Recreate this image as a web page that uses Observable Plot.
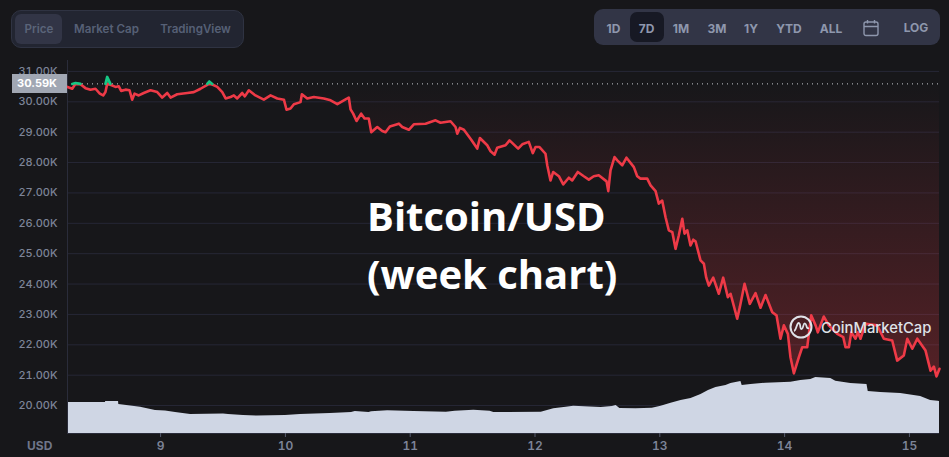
<!DOCTYPE html>
<html><head><meta charset="utf-8">
<script src="https://cdn.jsdelivr.net/npm/d3@7"></script>
<script src="https://cdn.jsdelivr.net/npm/@observablehq/plot@0.6"></script>
<style>
html,body{margin:0;padding:0;background:#17171a;width:949px;height:457px;overflow:hidden}
body{position:relative;font-family:Inter,sans-serif}
#chart{position:absolute;left:0;top:0}
.abs{position:absolute;white-space:nowrap}
.grp{position:absolute;box-sizing:border-box}
.btn{position:absolute;transform:translate(-50%,-50%);font-size:12px;font-weight:600;white-space:nowrap}
</style></head><body>
<div id="chart"></div>
<script>
const basePrice = 30.59;
const days = [8.254,8.292,8.318,8.358,8.398,8.438,8.478,8.513,8.540,8.558,8.572,8.598,8.638,8.665,8.684,8.719,8.751,8.772,8.791,8.825,8.865,8.919,8.973,9.013,9.053,9.080,9.133,9.214,9.266,9.320,9.374,9.390,9.414,9.454,9.494,9.521,9.561,9.587,9.614,9.654,9.675,9.707,9.760,9.827,9.881,9.935,9.988,10.009,10.041,10.068,10.121,10.132,10.175,10.228,10.308,10.362,10.416,10.496,10.508,10.522,10.543,10.570,10.607,10.634,10.668,10.688,10.736,10.776,10.802,10.837,10.909,10.936,10.989,11.029,11.123,11.203,11.243,11.323,11.363,11.377,11.398,11.430,11.489,11.537,11.558,11.617,11.644,11.676,11.697,11.764,11.796,11.865,11.898,11.950,11.982,12.004,12.036,12.084,12.098,12.124,12.146,12.191,12.226,12.271,12.298,12.343,12.391,12.431,12.471,12.511,12.573,12.587,12.605,12.637,12.659,12.699,12.733,12.792,12.819,12.845,12.899,12.926,12.966,12.992,13.019,13.046,13.072,13.100,13.126,13.152,13.180,13.198,13.220,13.246,13.268,13.286,13.326,13.353,13.372,13.393,13.428,13.473,13.508,13.545,13.567,13.620,13.641,13.679,13.721,13.767,13.807,13.847,13.901,13.935,13.967,13.994,14.026,14.047,14.074,14.114,14.141,14.181,14.213,14.248,14.266,14.314,14.354,14.422,14.470,14.488,14.515,14.534,14.568,14.587,14.608,14.648,14.742,14.795,14.862,14.902,14.955,14.983,15.023,15.063,15.129,15.169,15.196,15.217,15.241];
const prices = [30.49,30.43,30.62,30.58,30.45,30.40,30.43,30.27,30.21,30.32,30.82,30.56,30.49,30.51,30.36,30.40,30.38,30.07,30.27,30.21,30.29,30.38,30.32,30.14,30.29,30.14,30.25,30.29,30.32,30.43,30.56,30.67,30.57,30.49,30.32,30.11,30.16,30.21,30.11,30.29,30.18,30.38,30.21,30.07,30.21,30.11,30.07,29.74,29.78,29.92,29.99,30.25,30.11,30.16,30.11,30.05,29.92,30.11,30.14,29.75,29.61,29.37,29.61,29.45,29.45,29.00,29.17,29.04,29.00,29.19,29.28,29.17,29.08,29.26,29.28,29.39,29.31,29.36,29.17,28.95,29.14,29.08,28.75,28.46,28.81,28.57,28.37,28.26,28.49,28.57,28.73,28.46,28.60,28.68,28.31,28.51,28.51,28.29,27.91,27.41,27.69,27.55,27.28,27.50,27.41,27.69,27.55,27.44,27.55,27.58,27.38,27.06,27.74,28.18,28.07,27.91,28.16,27.85,27.55,27.47,27.47,27.25,27.06,26.65,26.75,26.20,25.77,25.71,25.16,25.60,26.15,25.66,25.77,25.27,25.46,25.41,24.78,24.67,24.21,23.95,24.21,23.68,24.21,23.57,23.68,22.86,23.24,24.01,23.35,23.70,23.22,23.64,23.07,22.97,22.20,22.64,22.36,21.59,21.06,21.59,21.92,21.92,22.97,22.64,22.41,22.93,22.64,22.36,22.25,21.92,21.92,22.41,22.20,22.41,22.20,22.69,22.64,22.20,22.14,21.48,21.65,22.20,21.87,22.20,21.81,21.15,21.28,20.96,21.21];
const volDays = [8.254,8.558,8.560,8.663,8.665,8.839,8.959,9.039,9.12,9.24,9.504,9.544,9.664,9.776,10.0,10.12,10.36,10.53,10.56,10.67,10.69,10.82,11.03,11.29,11.36,11.51,11.64,11.67,12.05,12.10,12.15,12.25,12.31,12.53,12.62,12.65,12.68,12.81,12.94,13.01,13.09,13.17,13.25,13.33,13.39,13.45,13.53,13.57,13.65,13.66,13.73,13.85,14.05,14.13,14.21,14.25,14.37,14.41,14.53,14.66,14.67,14.77,14.93,15.09,15.13,15.17,15.23,15.241];
const volumes = [31,31,32,32,29,26.3,23,22.5,21,19,19.5,19,18,17.5,18,19,20,21,22,21,21.7,22.7,22,21.3,22.3,23.3,22.3,21,21.3,23,24.7,26.3,27.3,26,27,28,25,24.7,25.3,27.3,30.3,33,35,39,43,46,48,50,52,48,49,50.3,51.3,53,54,56,55,52.3,50,49,42,41,40,37,35,33,32.3,32];
const yTicks = [20,21,22,23,24,25,26,27,28,29,30,31];
const xTicks = [9,10,11,12,13,14,15];
const leftTabs = ["Price","Market Cap","TradingView"];
const rangeTabs = ["1D","7D","1M","3M","1Y","YTD","ALL"];

const series = days.map((d,i)=>({day:d,price:prices[i]}));
const volSeries = volDays.map((d,i)=>({day:d,vol:volumes[i]}));
const volY = d3.scaleLinear([0,100],[19.08,22.375]);
const greenSegs = [];
series.forEach((p,i)=>{ if(p.price>basePrice){ for(const j of [i-1,i,i+1]) greenSegs.push({day:series[j].day,price:Math.max(series[j].price,basePrice),seg:i}); }});

const axisColor = "#2a2c3a", labelColor = "#7d8498";
const chart = Plot.plot({
  width:949, height:457,
  marginLeft:67, marginRight:10, marginTop:60, marginBottom:24,
  style:{background:"transparent",fontFamily:"Inter, sans-serif",fontSize:"12px",fontWeight:500},
  x:{domain:[8.254,15.241]},
  y:{domain:[19.08,31.36]},
  marks:[
    () => {
      const defs = d3.create("svg:defs");
      const g = defs.append("linearGradient").attr("id","redGrad").attr("x1",0).attr("y1",0).attr("x2",0).attr("y2",1);
      g.append("stop").attr("offset","0%").attr("stop-color","#ea3943").attr("stop-opacity",0);
      g.append("stop").attr("offset","100%").attr("stop-color","#ea3943").attr("stop-opacity",0.29);
      return defs.node();
    },
    Plot.ruleY(yTicks,{stroke:"#262736",strokeWidth:1}),
    Plot.areaY(series,{x:"day",y1:()=>basePrice,y2:d=>Math.min(d.price,basePrice),fill:"url(#redGrad)"}),
    Plot.areaY(series,{x:"day",y1:()=>basePrice,y2:d=>Math.max(d.price,basePrice),fill:"#16c784",fillOpacity:0.75}),
    Plot.ruleY([basePrice],{stroke:"#c9ccd3",strokeDasharray:"1 4",strokeWidth:1}),
    Plot.areaY(volSeries,{x:"day",y1:()=>volY(0),y2:d=>volY(d.vol),fill:"#cfd6e4"}),
    Plot.ruleX([8.254],{stroke:axisColor}),
    Plot.ruleY([19.08],{stroke:axisColor,strokeWidth:1}),
    Plot.line(series,{x:"day",y:d=>Math.min(d.price,basePrice),stroke:"#ee3a47",strokeWidth:2.6,strokeLinejoin:"round"}),
    Plot.line(greenSegs,{x:"day",y:"price",z:"seg",stroke:"#16c784",strokeWidth:2.6}),
    Plot.axisY({ticks:yTicks,tickSize:0,tickPadding:10,label:null,tickFormat:d=>d.toFixed(2)+"K",fill:labelColor,fontSize:11}),
    Plot.axisX({ticks:xTicks,tickSize:4,tickPadding:4,label:null,tickFormat:d=>String(d),fill:labelColor,stroke:"#565b6d",fontWeight:600})
  ]
});
document.getElementById("chart").append(chart);

function box(l,t,w,h,bg,r,border){const e=document.createElement("div");e.className="grp";e.style.cssText=`left:${l}px;top:${t}px;width:${w}px;height:${h}px;background:${bg};border-radius:${r}px;${border?`border:1px solid ${border};`:""}`;document.body.append(e);return e;}
function label(txt,cx,cy,color,size,weight){const e=document.createElement("div");e.className="btn";e.textContent=txt;e.style.cssText=`left:${cx}px;top:${cy}px;color:${color};`+(size?`font-size:${size}px;`:"")+(weight?`font-weight:${weight};`:"");document.body.append(e);return e;}

box(11,10,233,38,"#222531",10,"#2f3342");
box(15,14,47,30,"#323546",6);
[39,106.5,195.5].forEach((x,i)=>label(leftTabs[i],x,29,i==0?"#5a6479":"#566076",11.6,600));

box(594,9,346,36,"#323546",9);
box(630,12,33.5,30,"#171924",7);
[613.5,646.5,681,717,751,789,831].forEach((x,i)=>label(rangeTabs[i],x,28,"#8e97ad",12,700));
label("LOG",916,27,"#8e97ad",12,700);

document.body.insertAdjacentHTML("beforeend",`
<svg class="abs" style="left:863px;top:19px" width="16" height="18" viewBox="0 0 16 18" fill="none" stroke="#8e97ad" stroke-width="1.4"><rect x="1" y="3" width="14" height="13.5" rx="2"/><path d="M1 7.5H15M4.5 1V4.5M11.5 1V4.5"/></svg>
<div class="abs" style="left:12px;top:74px;width:55px;height:19px;background:#a1a7b3;color:#fff;font-size:11px;font-weight:700;line-height:19px"><span style="position:absolute;right:10px">${basePrice.toFixed(2)}K</span></div>
<div class="abs" style="left:27px;top:438px;color:#6f768a;font-size:12px;font-weight:700;line-height:15px">USD</div>
<div class="abs" style="left:367px;top:187px;color:#fff;font-family:'Open Sans',sans-serif;font-weight:700;font-size:40px;line-height:58px">Bitcoin/USD<br>(week chart)</div>
<svg class="abs" style="left:789px;top:315px" width="24" height="24" viewBox="0 0 24 24" fill="none" stroke="#dfe2e8" stroke-width="2"><circle cx="12" cy="12" r="10.5"/><path d="M5 16 C7.5 15.5 7.5 7.5 10 8 C12 8.5 10.5 14 12.5 14 C14.5 14 14 8 16 8.5 C18 9 17 14.5 20 13" stroke-width="1.8"/></svg>
<div class="abs" style="left:821px;top:317px;color:#dfe2e8;font-size:14.8px;font-weight:500;line-height:22px">CoinMarketCap</div>
`);
</script>
</body></html>
